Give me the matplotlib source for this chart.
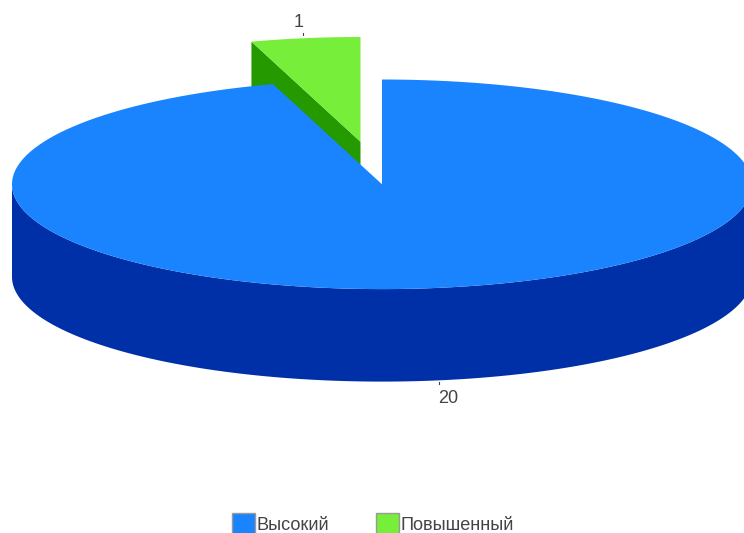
#!/usr/bin/env python3
"""Exploded 3D-look pie, projected by hand onto pixel coordinates."""
import numpy as np
import matplotlib
matplotlib.use("Agg")
import matplotlib.pyplot as plt
from matplotlib.patches import Polygon, Rectangle

categories = ["Высокий", "Повышенный"]
values = [20, 1]
top_colors = ["#1a84ff", "#76ee3a"]
side_colors = ["#0030a8", "#259900"]

W, H = 744, 533
CX, CY, RX, RY = 382, 184.3, 370, 104.8
DEPTH = 92.5
EXPLODE = (-21.5, -42.5)  # only the small slice is pulled out
INK = "#444444"

plt.rcParams["font.family"] = ["Liberation Sans", "DejaVu Sans"]


def rim(t0, t1, dx=0, dy=0, n=300):
    # t is clockwise from 12 o'clock, in degrees
    t = np.radians(np.linspace(t0, t1, n))
    return np.column_stack([CX + dx + RX * np.sin(t), CY + dy - RY * np.cos(t)])


fig = plt.figure(figsize=(W / 100, H / 100), dpi=100)
ax = fig.add_axes([0, 0, 1, 1])
ax.set_xlim(0, W)
ax.set_ylim(H, 0)
ax.axis("off")

angles = np.cumsum([0] + values) / sum(values) * 360
t0_big, t1_big = angles[0], angles[1]
t0_small, t1_small = angles[1], angles[2]
dx, dy = EXPLODE

# small slice first, the big one paints over the lower part of its wall
apex = np.array([CX + dx, CY + dy])
corner = rim(t0_small, t0_small, dx, dy, 1)[0]
wall = [corner, apex, apex + [0, DEPTH], corner + [0, DEPTH]]
ax.add_patch(Polygon(wall, fc=side_colors[1], ec="none", zorder=1))
ax.add_patch(Polygon(np.vstack([apex, rim(t0_small, t1_small, dx, dy)]),
                     fc=top_colors[1], ec="none", zorder=2))

# big slice: front side band, then the top face
front = rim(90, 270)
band = np.vstack([front, (front + [0, DEPTH])[::-1]])
ax.add_patch(Polygon(band, fc=side_colors[0], ec="none", zorder=3))
ax.add_patch(Polygon(np.vstack([[CX, CY], rim(t0_big, t1_big)]),
                     fc=top_colors[0], ec="none", zorder=4))

# value labels with their tiny ticks at the slice midpoints
mid_big = rim((t0_big + t1_big) / 2, (t0_big + t1_big) / 2, 0, DEPTH, 1)[0]
mid_small = rim((t0_small + t1_small) / 2, (t0_small + t1_small) / 2, dx, dy, 1)[0]
ax.plot([mid_big[0] + 2] * 2, [mid_big[1] + 2, mid_big[1] + 4], color=INK, lw=0.8, zorder=5)
ax.plot([mid_small[0] - 2] * 2, [mid_small[1] - 5, mid_small[1] - 3], color=INK, lw=0.8, zorder=5)
ax.text(mid_big[0] + 1, mid_big[1] + 18, str(values[0]), fontsize=13, color=INK,
        ha="left", va="center")
ax.text(mid_small[0] - 12, mid_small[1] - 16, str(values[1]), fontsize=13, color=INK,
        ha="left", va="center")

# legend runs off the bottom edge like in the source
for cat, col, x in zip(categories, top_colors, [232, 376]):
    ax.add_patch(Rectangle((x, 512.5), 22.5, 24, fc=col, ec="#999999", lw=1, clip_on=True))
    ax.text(x + 25, 526, cat, fontsize=13.1, color=INK, ha="left", va="center")

fig.savefig("out.png", dpi=100)
